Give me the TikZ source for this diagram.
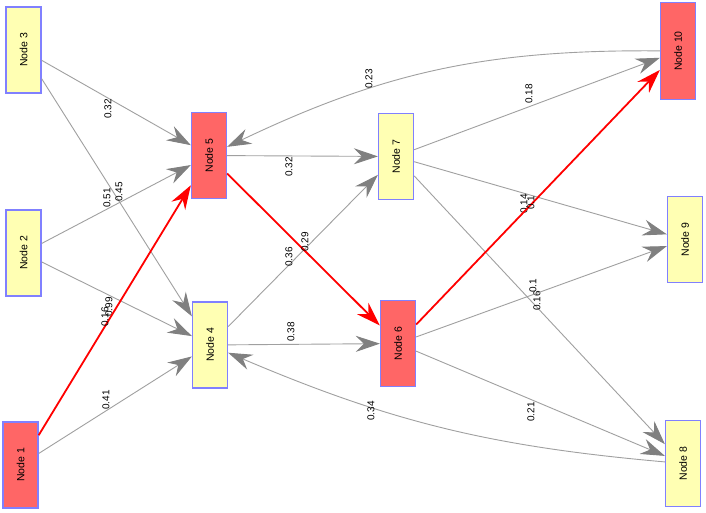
\documentclass[tikz,border=0pt]{standalone}
\usepackage{fontspec}
\setmainfont{Liberation Sans}
\usepackage{graphicx}
\usetikzlibrary{arrows.meta}
\definecolor{nodeyellow}{RGB}{255,255,179}
\definecolor{nodered}{RGB}{255,102,102}
\definecolor{nodeborder}{RGB}{128,128,255}
\definecolor{edgegray}{RGB}{160,160,160}
\definecolor{tipgray}{RGB}{128,128,128}
\begin{document}
\begin{tikzpicture}[x=1pt,y=-1pt,
  nd/.style={draw=nodeborder, line width=1.3pt, minimum width=35pt, minimum height=86pt, inner sep=0pt, font=\fontsize{10.5}{12}\selectfont},
  yel/.style={nd, fill=nodeyellow},
  hot/.style={nd, fill=nodered},
  tipg/.tip={Stealth[length=24pt,width=16pt,inset=8pt,color=tipgray,fill=tipgray]},
  tipr/.tip={Stealth[length=24pt,width=16pt,inset=8pt,color=red,fill=red]},
  edg/.style={draw=edgegray, line width=0.9pt, -tipg},
  hedge/.style={draw=red, line width=1.8pt, -tipr},
  lbl/.style={rotate=90, inner sep=0pt, font=\fontsize{10}{11}\selectfont}
]
\useasboundingbox (0,0) rectangle (706,512);
\fill[white] (0,0) rectangle (706,512);

\node[yel] (n3) at (23.5,50) {\rotatebox{90}{Node 3}};
\node[yel] (n2) at (23.5,253) {\rotatebox{90}{Node 2}};
\node[hot] (n1) at (20.5,465) {\rotatebox{90}{Node 1}};
\node[hot] (n5) at (209,155.5) {\rotatebox{90}{Node 5}};
\node[yel] (n4) at (210,345) {\rotatebox{90}{Node 4}};
\node[yel] (n7) at (396,156.5) {\rotatebox{90}{Node 7}};
\node[hot] (n6) at (398,343.5) {\rotatebox{90}{Node 6}};
\node[hot, minimum height=97pt] (n10) at (678,51) {\rotatebox{90}{Node 10}};
\node[yel] (n9) at (685,239.5) {\rotatebox{90}{Node 9}};
\node[yel] (n8) at (683,463.5) {\rotatebox{90}{Node 8}};

\draw[edg] (n3) -- (n5) node[lbl] at (108,109) {0.32};
\draw[edg] (n3) -- (n4) node[lbl] at (119,192) {0.45};
\draw[edg] (n2) -- (n5) node[lbl] at (107,198) {0.51};
\draw[edg] (n2) -- (n4) node[lbl] at (109,307) {0.99};
\draw[edg] (n1) -- (n4) node[lbl] at (106,400) {0.41};
\draw[edg] (n5) -- (n7) node[lbl] at (289,167) {0.32};
\draw[edg] (n4) -- (n7) node[lbl] at (289,257) {0.36};
\draw[edg] (n4) -- (n6) node[lbl] at (291,332) {0.38};
\draw[edg] (n8) to[bend left=9] (n4) node[lbl] at (371,411) {0.34};
\draw[edg] (n10) to[bend right=13] (n5) node[lbl] at (369,79) {0.23};
\draw[edg] (n7) -- (n10) node[lbl] at (529,94) {0.18};
\draw[edg] (n7) -- (n9) node[lbl] at (524,204) {0.14};
\draw[edg] (n7) -- (n8) node[lbl] at (537,301) {0.16};
\draw[edg] (n6) -- (n9) node[lbl] at (533,286) {0.1};
\draw[edg] (n6) -- (n8) node[lbl] at (531,412) {0.21};

\draw[hedge] (n1) -- (n5) node[lbl] at (105,317) {0.16};
\draw[hedge] (n5) -- (n6) node[lbl] at (305,242) {0.29};
\draw[hedge] (n6) -- (n10) node[lbl] at (531,203) {0.1};
\end{tikzpicture}
\end{document}
